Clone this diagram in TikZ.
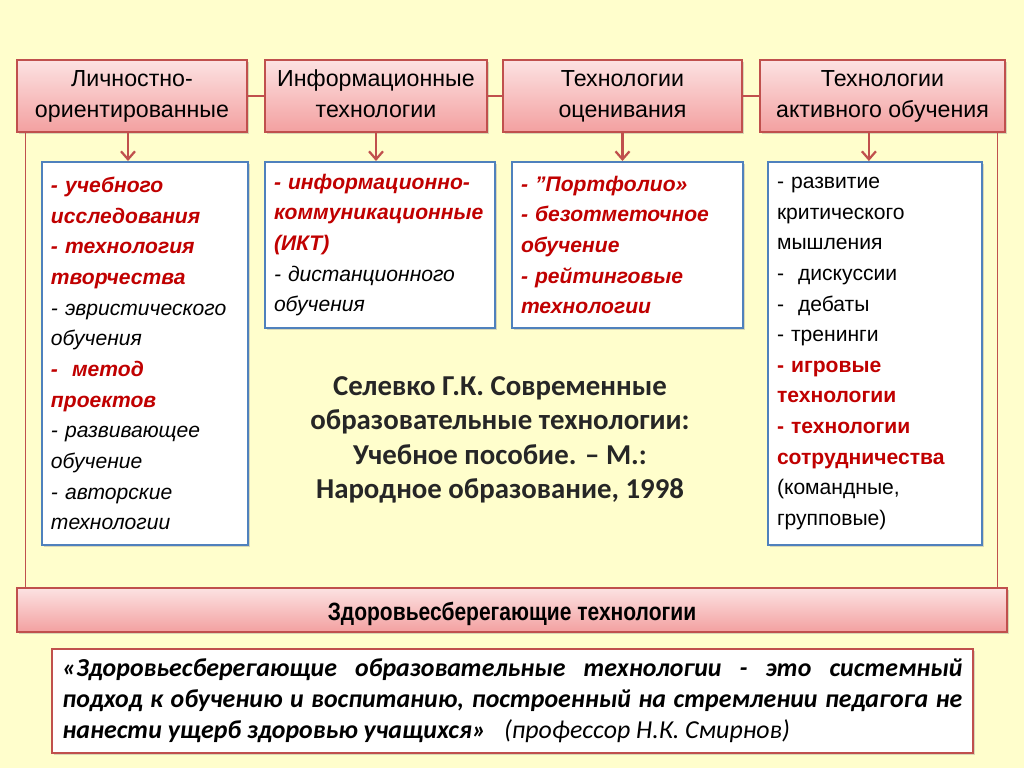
\documentclass[tikz,border=0pt]{standalone}
\usepackage{fontspec}
\setmainfont{Liberation Sans}
\newfontfamily\calfont{Carlito}
\newfontfamily\narrowfont[FakeStretch=0.84]{Liberation Sans}
\usetikzlibrary{shadows,arrows.meta}

\definecolor{bgyellow}{RGB}{255,254,204}
\definecolor{boxred}{RGB}{192,80,77}
\definecolor{pinktop}{RGB}{252,226,226}
\definecolor{pinkbot}{RGB}{243,160,160}
\definecolor{boxblue}{RGB}{79,129,189}
\definecolor{textred}{RGB}{192,0,0}

\newcommand{\redit}[1]{\textcolor{textred}{\bfseries\itshape #1}}
\newcommand{\redbf}[1]{\textcolor{textred}{\bfseries #1}}

\tikzset{
  headbox/.style={draw=boxred, line width=0.8pt, top color=pinktop, bottom color=pinkbot,
    drop shadow={shadow xshift=1.5pt, shadow yshift=-1.5pt, opacity=.3},
    align=center, font=\fontsize{16.5}{22}\selectfont, minimum height=18mm, inner sep=0pt,
    execute at begin node=\rule{0pt}{19pt}, execute at end node=\vphantom{у}},
  listbox/.style={draw=boxblue, line width=1.4pt, fill=white,
    drop shadow={shadow xshift=1.5pt, shadow yshift=-1.5pt, opacity=.3},
    align=left, font=\fontsize{15}{21.8}\selectfont, inner xsep=2.25mm, inner ysep=0pt},
  quotebox/.style={draw=boxred, line width=1.8pt, fill=white,
    drop shadow={shadow xshift=1.5pt, shadow yshift=-1.5pt, opacity=.3},
    align=justify, text width=225mm, inner xsep=2.625mm, minimum height=26mm,
    font=\calfont\fontsize{18.4}{22}\selectfont},
  source/.style={font=\calfont\bfseries\fontsize{20.5}{24.5}\selectfont, align=center},
  link/.style={boxred, line width=1pt},
  arr/.style={boxred, line width=1.6pt, -{Straight Barb[length=2mm, width=3.5mm]}}
}

\begin{document}
\begin{tikzpicture}[x=0.25mm, y=-0.25mm]
  \fill[bgyellow] (0,0) rectangle (1024,768);

  % headings
  \node[headbox, minimum width=57.5mm] (lich) at (132,96) {Личностно-\\ориентированные};
  \node[headbox, minimum width=55.5mm] (info) at (376,96) {Информационные\\технологии};
  \node[headbox, minimum width=59.75mm] (ocen) at (622.5,96) {Технологии\\оценивания};
  \node[headbox, minimum width=61.25mm] (aktiv) at (882.5,96) {Технологии\\активного обучения};

  % lists
  \node[listbox, text width=47mm, minimum height=95.75mm] (lichlist) at (145,353.5) {%
    \redit{- учебного}\\ \redit{исследования}\\ \redit{- технология}\\ \redit{творчества}\\
    \textit{- эвристического}\\ \textit{обучения}\\ \redit{-\ \ метод}\\ \redit{проектов}\\
    \textit{- развивающее}\\ \textit{обучение}\\ \textit{- авторские}\\ \textit{технологии}};
  \node[listbox, text width=53mm, minimum height=41.5mm] (infolist) at (380,245) {%
    \redit{- информационно-}\\ \redit{коммуникационные}\\ \redit{(ИКТ)}\\
    \textit{- дистанционного}\\ \textit{обучения}};
  \node[listbox, text width=53.25mm, minimum height=41.5mm] (ocenlist) at (627.5,245) {%
    \redit{- "Портфолио»}\\ \redit{- безотметочное}\\ \redit{обучение}\\
    \redit{- рейтинговые}\\ \redit{технологии}};
  \node[listbox, text width=49mm, minimum height=95.75mm] (aktivlist) at (875,353.5) {%
    - развитие\\ критического\\ мышления\\ -\ \ дискуссии\\ -\ \ дебаты\\ - тренинги\\
    \redbf{- игровые}\\ \redbf{технологии}\\ \redbf{- технологии}\\ \redbf{сотрудничества}\\
    (командные,\\ групповые)};

  % source
  \node[source, text=black!85] (selevko) at (500,440)
    {Селевко Г.К. Современные\\образовательные технологии:\\Учебное пособие. – М.:\\Народное образование, 1998};

  % bottom
  \node[headbox, minimum width=247.5mm, minimum height=11mm, font=\narrowfont\bfseries\fontsize{17.8}{22}\selectfont,
    execute at begin node={}, execute at end node={}]
    (zdor) at (512,610) {Здоровьесберегающие технологии};
  \node[quotebox] (quote) at (512.5,701) {%
    {\bfseries\itshape «Здоровьесберегающие образовательные технологии - это системный\linebreak
    подход к обучению и воспитанию, построенный на стремлении педагога не\linebreak
    нанести ущерб здоровью учащихся»}\hspace{0.7em}{\itshape (профессор Н.К. Смирнов)}};

  % connectors
  \draw[link] (lich) -- (info);
  \draw[link] (info) -- (ocen);
  \draw[link] (ocen) -- (aktiv);
  \draw[link] ([xshift=2.25mm]lich.south west) -- ([xshift=2.25mm]lich.south west |- zdor.north);
  \draw[link] ([xshift=-2mm]aktiv.south east) -- ([xshift=-2mm]aktiv.south east |- zdor.north);

  \draw[arr] ([xshift=-1mm]lich.south) -- ([xshift=-1mm]lich.south |- lichlist.north);
  \draw[arr] (info.south) -- (info.south |- infolist.north);
  \draw[arr] (ocen.south) -- (ocen.south |- ocenlist.north);
  \draw[arr] ([xshift=-3.4mm]aktiv.south) -- ([xshift=-3.4mm]aktiv.south |- aktivlist.north);
\end{tikzpicture}
\end{document}
